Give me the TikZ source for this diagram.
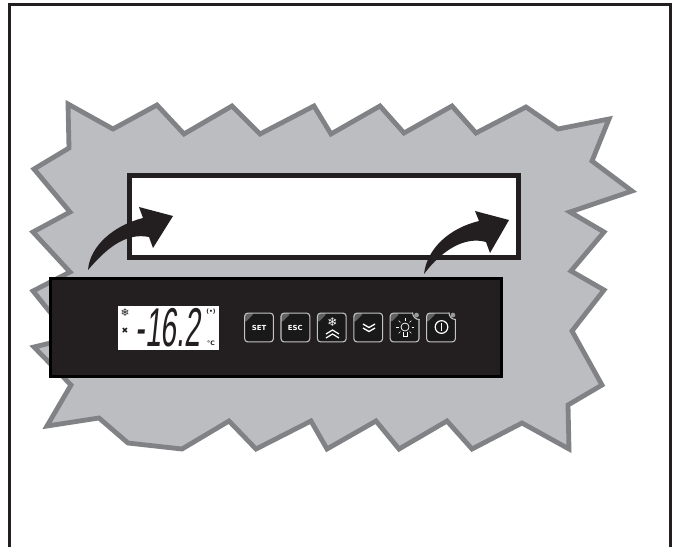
\documentclass[tikz,border=0pt]{standalone}
\usepackage{fontspec}
\setmainfont{Liberation Sans}
\newfontfamily\dejavu{DejaVu Sans}
\usetikzlibrary{positioning,calc}
\definecolor{inkc}{HTML}{231F20}
\definecolor{burstc}{HTML}{BCBDC0}
\definecolor{burstline}{HTML}{808285}
\definecolor{keyline}{HTML}{C4C4C4}
\begin{document}
\begin{tikzpicture}[
        x=0.75pt, y=-0.75pt,
        node distance = 0pt and 4.9pt,
        frameline/.style = {draw=inkc, line width=2.25pt},
        burst/.style = {fill=burstc, draw=burstline, line width=3.6pt, miter limit=10},
        bendarrow/.style = {fill=inkc, draw=none},
        keybox/.style = {rectangle, draw=keyline, line width=0.8pt, rounded corners=2.4pt, fill=black!90,
                      minimum width=21.6pt, minimum height=21.6pt, inner sep=0pt,
                      text=white, align=center, font=\dejavu\bfseries\fontsize{5.2}{6}\selectfont,
                      path picture={\fill[black!62] (path picture bounding box.north west)
                          -- ++(10,0) -- ++(-10,10) -- cycle;}},
        ledcut/.style = {circle, fill=inkc, minimum size=10pt, inner sep=0pt},
        leddot/.style = {circle, fill=black!40, minimum size=3.6pt, inner sep=0pt},
        keyicon/.style = {draw=white, line width=0.6pt},
        lcdicon/.style = {inner sep=0pt, text=inkc}
    ]
    \useasboundingbox (0,0) rectangle (678,547);
    \fill[white] (0,0) rectangle (678,547);
    % outer frame
    \draw[frameline] (9,547) -- (9,4.5) -- (670,4.5) -- (670,547);
    % burst
    \draw[burst] (68,104) -- (113,129) -- (157,105) -- (184,134) -- (232,106) -- (260,134)
        -- (314,106) -- (331,134) -- (380,106) -- (404,133) -- (452,106) -- (476,133)
        -- (526,107) -- (558,129) -- (609,119) -- (592,161) -- (632,191) -- (570,212)
        -- (604,232) -- (571,271) -- (604,290) -- (572,331) -- (602,385) -- (568,405)
        -- (569,449) -- (522,423) -- (472,449) -- (447,421) -- (399,449) -- (376,421)
        -- (327,449) -- (311,421) -- (256,449) -- (229,421) -- (182,449) -- (128,443)
        -- (99,418) -- (47,426) -- (71,385) -- (34,347) -- (71,338) -- (33,291)
        -- (70,272) -- (33,232) -- (70,212) -- (34,169) -- (69,148) -- cycle;
    % window
    \node[draw=inkc, line width=3.9pt, fill=white, minimum width=291.8pt, minimum height=61.5pt,
          inner sep=0pt] (window) at (324,216.5) {};
    % arrows
    \fill[bendarrow] (88,270) .. controls (90,245) and (115,225) .. (143,218) -- (139,207)
        -- (173,216) -- (153,248) -- (149,237) .. controls (125,232) and (105,250) .. (88,270) -- cycle;
    \fill[bendarrow] (424,274) .. controls (427,248) and (450,228) .. (479,221) -- (475,211)
        -- (509,220) -- (490,253) -- (486,242) .. controls (465,236) and (442,250) .. (424,274) -- cycle;
    % panel
    \node[draw=black, line width=2.2pt, fill=inkc, minimum width=338pt, minimum height=74pt,
          inner sep=0pt] (panel) at (276,327.5) {};
    \node[fill=white, minimum width=75.7pt, minimum height=33pt, inner sep=0pt] (lcd) at (168.5,328) {};
    \node[lcdicon, font=\fontsize{41}{41}\selectfont, xscale=0.52, xslant=0.2, transform shape] (temp) at (170,328) {-16.2};
    \node[lcdicon, font=\dejavu\fontsize{8}{8}\selectfont] (frost) at (125,313) {❄};
    \node[lcdicon, font=\dejavu\fontsize{6}{6}\selectfont] (fan) at (125,331) {✖};
    \node[lcdicon, font=\dejavu\bfseries\fontsize{4.6}{5}\selectfont] (unit) at (211,343) {°C};
    \node[lcdicon, font=\dejavu\bfseries\fontsize{4.5}{5}\selectfont] (signal) at (211,312) {(•)};
    % keys
    \node[keybox] (setkey) at (259,327.5) {SET};
    \node[keybox, right=of setkey] (esckey) {ESC};
    \node[keybox, right=of esckey] (frostkey) {};
    \node[keybox, right=of frostkey] (downkey) {};
    \node[keybox, right=of downkey] (lampkey) {};
    \node[keybox, right=of lampkey] (powerkey) {};
    \node[text=white, inner sep=0pt, font=\dejavu\fontsize{9}{9}\selectfont] (frostsym) at (332.5,322) {❄};
    \foreach \a in {330,334}
        \draw[keyicon, line width=0.9pt] (326,\a+4) -- (332.5,\a) -- (339,\a+4);
    \foreach \a in {324,328}
        \draw[keyicon, line width=1pt] (363,\a) -- (369,\a+3.5) -- (375,\a);
    % led keys
    \foreach \k in {lampkey,powerkey}{
        \node[ledcut] (\k cut) at (\k.north east) {};
        \draw[keyline, line width=0.8pt] ($(\k.north east)+(-7,0)$) .. controls ($(\k.north east)+(-7,4)$)
            and ($(\k.north east)+(-4,7)$) .. ($(\k.north east)+(0,7)$);
        \node[leddot] (\k led) at ($(\k.north east)+(-3,2.5)$) {};
    }
    % bulb
    \node[circle, draw=white, line width=0.55pt, minimum size=6pt, inner sep=0pt] (bulb) at (405,327) {};
    \draw[keyicon] (403,332) -- (403,336) -- (407,336) -- (407,332);
    \foreach \r in {0,45,135,180,225,315}
        \draw[keyicon, line width=0.45pt] (bulb.center) ++(\r:6.5) -- ++(\r:2.5);
    \draw[keyicon, line width=0.45pt] (bulb.center) ++(0,-6.5) -- ++(0,-2.5);
    % power
    \node[circle, draw=white, line width=0.9pt, minimum size=9.5pt, inner sep=0pt] (powersym) at (441.5,327) {};
    \draw[keyicon, line width=1.2pt] (powersym.center) ++(0,-4) -- ++(0,8);
\end{tikzpicture}
\end{document}
